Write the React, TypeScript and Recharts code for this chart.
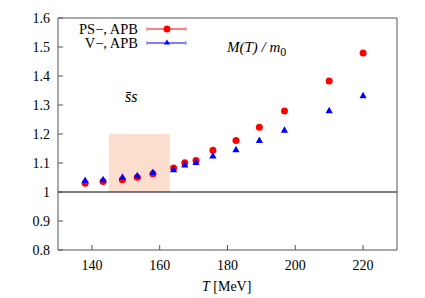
import {
  ScatterChart,
  Scatter,
  XAxis,
  YAxis,
  ReferenceLine,
  ReferenceArea,
} from 'recharts';

const temps = [138, 143.3, 149, 153.4, 158, 164.1, 167.4, 170.7, 175.7, 182.5, 189.4, 196.8, 210, 220];
const psApb = [1.03, 1.036, 1.042, 1.051, 1.063, 1.083, 1.101, 1.109, 1.144, 1.178, 1.223, 1.279, 1.383, 1.479];
const vApb = [1.04, 1.042, 1.051, 1.056, 1.067, 1.077, 1.093, 1.102, 1.124, 1.146, 1.178, 1.213, 1.28, 1.332];
const xTicks = [140, 160, 180, 200, 220];
const yTicks = [0.8, 0.9, 1, 1.1, 1.2, 1.3, 1.4, 1.5, 1.6];
const band = [145, 163];

const psData = temps.map((t, i) => ({ t, m: psApb[i] }));
const vData = temps.map((t, i) => ({ t, m: vApb[i] }));

const FONT = '"Liberation Serif", "Times New Roman", serif';
const FRAME = '#555';
const TICK = 5;

const BottomTick = ({ x, y, payload }: any) => (
  <g>
    <line x1={x} x2={x} y1={y} y2={y - TICK} stroke={FRAME} />
    <text x={x} y={y + 20} textAnchor="middle" fontSize={14} fontFamily={FONT} fill="#000">
      {payload.value}
    </text>
  </g>
);
const TopTick = ({ x, y }: any) => <line x1={x} x2={x} y1={y} y2={y + TICK} stroke={FRAME} />;
const LeftTick = ({ x, y, payload }: any) => (
  <g>
    <line x1={x} x2={x + TICK} y1={y} y2={y} stroke={FRAME} />
    <text x={x - 8} y={y + 5} textAnchor="end" fontSize={14} fontFamily={FONT} fill="#000">
      {payload.value}
    </text>
  </g>
);
const RightTick = ({ x, y }: any) => <line x1={x} x2={x - TICK} y1={y} y2={y} stroke={FRAME} />;

const Dot = (p: any) => <circle cx={p.cx} cy={p.cy} r={3.5} fill="#ff0000" />;
const Tri = (p: any) => (
  <path d={`M${p.cx},${p.cy - 4}L${p.cx + 3.6},${p.cy + 2.5}L${p.cx - 3.6},${p.cy + 2.5}Z`} fill="#0000ff" />
);

export default function App() {
  return (
    <div style={{ position: 'absolute', left: 0, top: 0, width: 425, height: 298, background: '#fff' }}>
      <ScatterChart width={425} height={298} margin={{ top: 17, right: 27, bottom: 47, left: 57 }}>
        <XAxis xAxisId="b" dataKey="t" type="number" domain={[130, 230]} ticks={xTicks} height={1}
          tickSize={0} tickMargin={0} tickLine={false} tick={<BottomTick />} axisLine={{ stroke: FRAME }} />
        <XAxis xAxisId="t" orientation="top" type="number" domain={[130, 230]} ticks={xTicks} height={1}
          tickSize={0} tickMargin={0} tickLine={false} tick={<TopTick />} axisLine={{ stroke: FRAME }} />
        <YAxis yAxisId="l" dataKey="m" type="number" domain={[0.8, 1.6]} ticks={yTicks} width={1}
          tickSize={0} tickMargin={0} tickLine={false} tick={<LeftTick />} axisLine={{ stroke: FRAME }} />
        <YAxis yAxisId="r" orientation="right" type="number" domain={[0.8, 1.6]} ticks={yTicks} width={1}
          tickSize={0} tickMargin={0} tickLine={false} tick={<RightTick />} axisLine={{ stroke: FRAME }} />
        <ReferenceArea xAxisId="b" yAxisId="l" x1={band[0]} x2={band[1]} y1={1} y2={1.2}
          fill="#fbd3bf" fillOpacity={0.75} stroke="none" />
        <ReferenceLine xAxisId="b" yAxisId="l" y={1} stroke="#000" strokeWidth={1} />
        <Scatter xAxisId="b" yAxisId="l" data={psData} shape={<Dot />} isAnimationActive={false} />
        <Scatter xAxisId="b" yAxisId="l" data={vData} shape={<Tri />} isAnimationActive={false} />
      </ScatterChart>
      <svg width={425} height={298} style={{ position: 'absolute', left: 0, top: 0, pointerEvents: 'none' }}
        fontFamily={FONT}>
        <text x={138} y={34} textAnchor="end" fontSize={14.5}>PS−, APB</text>
        <line x1={147} x2={186} y1={29} y2={29} stroke="#ff0000" />
        <line x1={147} x2={147} y1={27} y2={31} stroke="#ff8080" />
        <line x1={186} x2={186} y1={27} y2={31} stroke="#ff8080" />
        <circle cx={167} cy={29} r={3.5} fill="#ff0000" />
        <text x={138} y={48} textAnchor="end" fontSize={14.5}>V−, APB</text>
        <line x1={147} x2={186} y1={43} y2={43} stroke="#0000ff" />
        <line x1={147} x2={147} y1={41} y2={45} stroke="#8080ff" />
        <line x1={186} x2={186} y1={41} y2={45} stroke="#8080ff" />
        <path d="M167,39.5L170,44.5L164,44.5Z" fill="#0000ff" />
        <text x={125} y={102} fontSize={16} fontStyle="italic">s̄s</text>
        <text x={227} y={52} fontSize={15} fontStyle="italic">
          M(T) / m<tspan fontStyle="normal" fontSize={12} dy={4}>0</tspan>
        </text>
        <text x={202} y={291} fontSize={14}>
          <tspan fontStyle="italic">T</tspan> [MeV]
        </text>
      </svg>
    </div>
  );
}
